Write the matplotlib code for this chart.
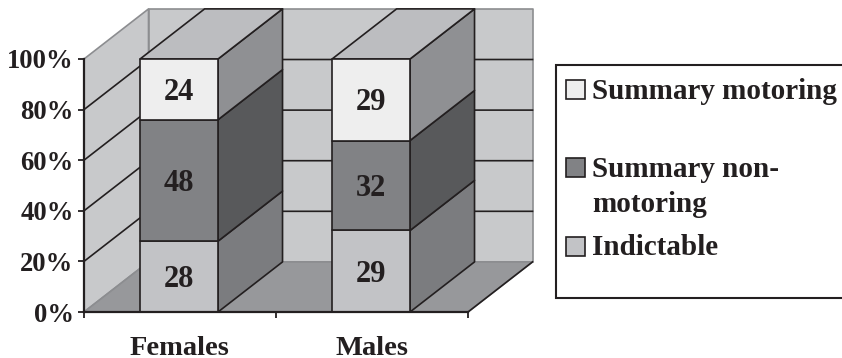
import matplotlib
matplotlib.use("Agg")
import matplotlib.pyplot as plt
import numpy as np
from matplotlib.patches import Polygon, Rectangle

plt.rcParams['font.family'] = ['Liberation Serif', 'DejaVu Serif']
plt.rcParams['font.weight'] = 'bold'

# Offenders by offence type, each column is scaled to 100%
groups = ["Females", "Males"]
series = ["Indictable", "Summary non-motoring", "Summary motoring"]
indictable = [28, 29]
non_motoring = [48, 32]
motoring = [24, 29]
y_ticks = [0, 20, 40, 60, 80, 100]

INK = "#231f20"
WALL = "#c8c9cb"
WALL_EDGE = "#8c8d90"
FLOOR = "#97989b"
BAR_TOP = "#bcbdc0"
FRONT = ["#c2c3c6", "#818285", "#eeeeee"]
SIDE = ["#7b7c7f", "#58595b", "#8f9093"]

# how far the back of the box sits from the front, in data units
DX = 0.336
DY = 19.8
BAR_W = 0.406
BAR_C = 0.495


def face(ax, pts, color, edge=INK, lw=1.2, z=1):
    ax.add_patch(Polygon(pts, closed=True, facecolor=color, edgecolor=edge,
                         linewidth=lw, clip_on=False, zorder=z, joinstyle='round'))


fig = plt.figure(figsize=(8.42, 3.58), dpi=100)
ax = fig.add_axes([84 / 842, 1 - 312 / 358, 384 / 842, 253 / 358])
ax.set_xlim(0, 2)
ax.set_ylim(0, 100)
ax.patch.set_visible(False)

# walls and floor
face(ax, [(0, 0), (DX, DY), (DX, 100 + DY), (0, 100)], WALL, edge=WALL_EDGE)
face(ax, [(DX, DY), (2 + DX, DY), (2 + DX, 100 + DY), (DX, 100 + DY)], WALL, edge=WALL_EDGE)
face(ax, [(0, 0), (2, 0), (2 + DX, DY), (DX, DY)], FLOOR, edge=WALL_EDGE)
ax.plot([2, 2 + DX], [0, DY], color=INK, lw=1.2, clip_on=False, zorder=1.2)

# gridlines run along the left wall then across the back
for t in y_ticks[1:-1]:
    ax.plot([0, DX, 2 + DX], [t, t + DY, t + DY], color=INK, lw=1.2,
            clip_on=False, zorder=1.5)

# stacked columns
table = np.array([indictable, non_motoring, motoring], dtype=float)
shares = table / table.sum(axis=0) * 100
for g in range(len(groups)):
    left = g + BAR_C - BAR_W / 2
    right = left + BAR_W
    base = 0
    for s in range(len(series)):
        top = base + shares[s, g]
        face(ax, [(right, base), (right + DX, base + DY), (right + DX, top + DY), (right, top)],
             SIDE[s], z=3)
        face(ax, [(left, base), (right, base), (right, top), (left, top)], FRONT[s], z=3.2)
        ax.annotate(str(int(table[s, g])), (g + BAR_C, (base + top) / 2), xytext=(0, -2),
                    textcoords='offset points', ha='center', va='center',
                    fontsize=22, color=INK, zorder=4)
        base = top
    face(ax, [(left, 100), (right, 100), (right + DX, 100 + DY), (left + DX, 100 + DY)],
         BAR_TOP, z=3.1)

# axes
ax.spines['top'].set_visible(False)
ax.spines['right'].set_visible(False)
for side in ('left', 'bottom'):
    ax.spines[side].set_linewidth(1.6)
    ax.spines[side].set_color(INK)
    ax.spines[side].set_zorder(3.5)
ax.set_yticks(y_ticks)
ax.set_yticklabels([f"{t}%" for t in y_ticks], fontsize=19.2, color=INK)
ax.tick_params(axis='y', length=4.5, width=1.3, color=INK, pad=3)
ax.set_xticks([0, 1, 2])
ax.set_xticklabels([])
ax.tick_params(axis='x', length=4.5, width=1.3, color=INK)
ax.set_xticks([0.5, 1.5], minor=True)
ax.set_xticklabels(groups, minor=True, fontsize=20.5, color=INK)
ax.tick_params(axis='x', which='minor', length=0, pad=17.5)

# legend box, runs off the right side of the figure
lg = fig.add_axes([0, 0, 1, 1])
lg.set_xlim(0, 842)
lg.set_ylim(358, 0)
lg.axis('off')
lg.add_patch(Rectangle((556, 65), 300, 233, facecolor='white', edgecolor=INK, linewidth=1.5))
rows = [(2, 89.5, 99, "Summary motoring"), (1, 167.5, 212, "Summary non-\nmotoring"),
        (0, 246, 255, "Indictable")]
for idx, y, baseline, label in rows:
    lg.add_patch(Rectangle((566, y - 9.5), 19, 19, facecolor=FRONT[idx], edgecolor=INK, linewidth=1.2))
    lg.text(592, baseline, label, ha='left', va='baseline', fontsize=21, color=INK, linespacing=1.4)

fig.savefig("out.png", dpi=100)
